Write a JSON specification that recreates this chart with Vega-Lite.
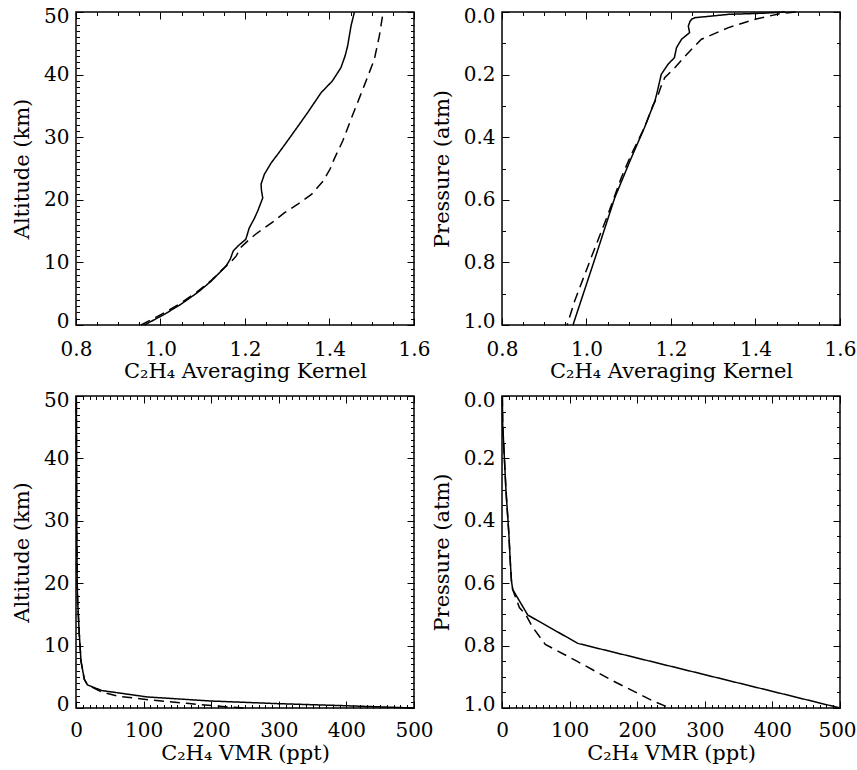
{
  "$schema": "https://vega.github.io/schema/vega-lite/v6.json",
  "background": "white",
  "padding": {"left": 10, "top": 5, "right": 0, "bottom": 5},
  "config": {
    "view": {"stroke": "black", "strokeWidth": 1.5},
    "axis": {"labelFont": "DejaVu Serif", "labelFontSize": 20, "titleFont": "DejaVu Serif", "titleFontSize": 21, "titleFontWeight": "normal", "labelColor": "black", "titleColor": "black", "grid": false, "domain": false, "labelOverlap": false, "tickColor": "black", "tickWidth": 1}
  },
  "datasets": {
    "tl": [
      {"series": "Profile 1", "alt": 0, "ak": 0.962}, {"series": "Profile 1", "alt": 1.7, "ak": 1.009}, {"series": "Profile 1", "alt": 3.3, "ak": 1.048}, {"series": "Profile 1", "alt": 5.2, "ak": 1.088}, {"series": "Profile 1", "alt": 7.0, "ak": 1.12}, {"series": "Profile 1", "alt": 9.4, "ak": 1.155}, {"series": "Profile 1", "alt": 10.5, "ak": 1.165}, {"series": "Profile 1", "alt": 11.8, "ak": 1.172}, {"series": "Profile 1", "alt": 12.6, "ak": 1.183}, {"series": "Profile 1", "alt": 13.7, "ak": 1.202}, {"series": "Profile 1", "alt": 15.5, "ak": 1.21}, {"series": "Profile 1", "alt": 17.0, "ak": 1.222}, {"series": "Profile 1", "alt": 18.2, "ak": 1.23}, {"series": "Profile 1", "alt": 20.3, "ak": 1.242}, {"series": "Profile 1", "alt": 21.5, "ak": 1.239}, {"series": "Profile 1", "alt": 22.5, "ak": 1.238}, {"series": "Profile 1", "alt": 24.1, "ak": 1.246}, {"series": "Profile 1", "alt": 25.9, "ak": 1.262}, {"series": "Profile 1", "alt": 27.5, "ak": 1.28}, {"series": "Profile 1", "alt": 30.2, "ak": 1.309}, {"series": "Profile 1", "alt": 33.9, "ak": 1.348}, {"series": "Profile 1", "alt": 37.1, "ak": 1.38}, {"series": "Profile 1", "alt": 39.0, "ak": 1.407}, {"series": "Profile 1", "alt": 41.1, "ak": 1.427}, {"series": "Profile 1", "alt": 43.0, "ak": 1.437}, {"series": "Profile 1", "alt": 44.6, "ak": 1.443}, {"series": "Profile 1", "alt": 47.8, "ak": 1.451}, {"series": "Profile 1", "alt": 50, "ak": 1.459},
      {"series": "Profile 2", "alt": 0, "ak": 0.954}, {"series": "Profile 2", "alt": 1.7, "ak": 1.002}, {"series": "Profile 2", "alt": 3.3, "ak": 1.043}, {"series": "Profile 2", "alt": 5.2, "ak": 1.085}, {"series": "Profile 2", "alt": 7.0, "ak": 1.118}, {"series": "Profile 2", "alt": 9.4, "ak": 1.155}, {"series": "Profile 2", "alt": 10.2, "ak": 1.168}, {"series": "Profile 2", "alt": 11.0, "ak": 1.179}, {"series": "Profile 2", "alt": 12.4, "ak": 1.19}, {"series": "Profile 2", "alt": 13.4, "ak": 1.206}, {"series": "Profile 2", "alt": 14.5, "ak": 1.225}, {"series": "Profile 2", "alt": 15.5, "ak": 1.246}, {"series": "Profile 2", "alt": 16.5, "ak": 1.267}, {"series": "Profile 2", "alt": 17.9, "ak": 1.293}, {"series": "Profile 2", "alt": 19.3, "ak": 1.325}, {"series": "Profile 2", "alt": 20.9, "ak": 1.358}, {"series": "Profile 2", "alt": 23.0, "ak": 1.385}, {"series": "Profile 2", "alt": 25.0, "ak": 1.402}, {"series": "Profile 2", "alt": 26.5, "ak": 1.411}, {"series": "Profile 2", "alt": 29.5, "ak": 1.432}, {"series": "Profile 2", "alt": 32.9, "ak": 1.451}, {"series": "Profile 2", "alt": 38.2, "ak": 1.482}, {"series": "Profile 2", "alt": 42.4, "ak": 1.506}, {"series": "Profile 2", "alt": 46.2, "ak": 1.518}, {"series": "Profile 2", "alt": 50, "ak": 1.527}
    ],
    "tr": [
      {"series": "Profile 1", "p": 1.0, "ak": 0.968}, {"series": "Profile 1", "p": 0.8, "ak": 1.017}, {"series": "Profile 1", "p": 0.593, "ak": 1.067}, {"series": "Profile 1", "p": 0.466, "ak": 1.106}, {"series": "Profile 1", "p": 0.37, "ak": 1.137}, {"series": "Profile 1", "p": 0.284, "ak": 1.162}, {"series": "Profile 1", "p": 0.263, "ak": 1.166}, {"series": "Profile 1", "p": 0.199, "ak": 1.177}, {"series": "Profile 1", "p": 0.167, "ak": 1.193}, {"series": "Profile 1", "p": 0.146, "ak": 1.208}, {"series": "Profile 1", "p": 0.114, "ak": 1.213}, {"series": "Profile 1", "p": 0.087, "ak": 1.225}, {"series": "Profile 1", "p": 0.066, "ak": 1.244}, {"series": "Profile 1", "p": 0.045, "ak": 1.241}, {"series": "Profile 1", "p": 0.03, "ak": 1.245}, {"series": "Profile 1", "p": 0.023, "ak": 1.249}, {"series": "Profile 1", "p": 0.018, "ak": 1.257}, {"series": "Profile 1", "p": 0.013, "ak": 1.296}, {"series": "Profile 1", "p": 0.0075, "ak": 1.336}, {"series": "Profile 1", "p": 0.004, "ak": 1.416}, {"series": "Profile 1", "p": 0.0, "ak": 1.471},
      {"series": "Profile 2", "p": 1.0, "ak": 0.954}, {"series": "Profile 2", "p": 0.923, "ak": 0.972}, {"series": "Profile 2", "p": 0.785, "ak": 1.011}, {"series": "Profile 2", "p": 0.646, "ak": 1.051}, {"series": "Profile 2", "p": 0.529, "ak": 1.0825}, {"series": "Profile 2", "p": 0.455, "ak": 1.106}, {"series": "Profile 2", "p": 0.37, "ak": 1.137}, {"series": "Profile 2", "p": 0.3, "ak": 1.157}, {"series": "Profile 2", "p": 0.263, "ak": 1.17}, {"series": "Profile 2", "p": 0.236, "ak": 1.177}, {"series": "Profile 2", "p": 0.21, "ak": 1.185}, {"series": "Profile 2", "p": 0.178, "ak": 1.209}, {"series": "Profile 2", "p": 0.13, "ak": 1.241}, {"series": "Profile 2", "p": 0.087, "ak": 1.272}, {"series": "Profile 2", "p": 0.05, "ak": 1.336}, {"series": "Profile 2", "p": 0.023, "ak": 1.399}, {"series": "Profile 2", "p": 0.004, "ak": 1.462}, {"series": "Profile 2", "p": 0.0, "ak": 1.495}
    ],
    "bl": [
      {"series": "Profile 1", "alt": 50, "vmr": 0.5}, {"series": "Profile 1", "alt": 40, "vmr": 0.8}, {"series": "Profile 1", "alt": 30, "vmr": 1.0}, {"series": "Profile 1", "alt": 20, "vmr": 1.8}, {"series": "Profile 1", "alt": 17, "vmr": 2.5}, {"series": "Profile 1", "alt": 11.8, "vmr": 4.9}, {"series": "Profile 1", "alt": 7.5, "vmr": 7.4}, {"series": "Profile 1", "alt": 4.6, "vmr": 12.3}, {"series": "Profile 1", "alt": 3.7, "vmr": 17}, {"series": "Profile 1", "alt": 2.8, "vmr": 38}, {"series": "Profile 1", "alt": 1.76, "vmr": 106}, {"series": "Profile 1", "alt": 1.12, "vmr": 200}, {"series": "Profile 1", "alt": 0.7, "vmr": 298}, {"series": "Profile 1", "alt": 0.37, "vmr": 397}, {"series": "Profile 1", "alt": 0, "vmr": 500},
      {"series": "Profile 2", "alt": 50, "vmr": 0.5}, {"series": "Profile 2", "alt": 40, "vmr": 0.8}, {"series": "Profile 2", "alt": 30, "vmr": 1.0}, {"series": "Profile 2", "alt": 20, "vmr": 1.8}, {"series": "Profile 2", "alt": 17, "vmr": 2.5}, {"series": "Profile 2", "alt": 11.8, "vmr": 4.9}, {"series": "Profile 2", "alt": 7.5, "vmr": 7.4}, {"series": "Profile 2", "alt": 4.6, "vmr": 12.3}, {"series": "Profile 2", "alt": 3.7, "vmr": 17}, {"series": "Profile 2", "alt": 2.6, "vmr": 37}, {"series": "Profile 2", "alt": 1.9, "vmr": 62}, {"series": "Profile 2", "alt": 1.28, "vmr": 111}, {"series": "Profile 2", "alt": 0.75, "vmr": 164}, {"series": "Profile 2", "alt": 0.48, "vmr": 190}, {"series": "Profile 2", "alt": 0.18, "vmr": 224}, {"series": "Profile 2", "alt": 0, "vmr": 248}
    ],
    "br": [
      {"series": "Profile 1", "p": 0.0, "vmr": 0.5}, {"series": "Profile 1", "p": 0.09, "vmr": 1.0}, {"series": "Profile 1", "p": 0.198, "vmr": 3.5}, {"series": "Profile 1", "p": 0.304, "vmr": 5.9}, {"series": "Profile 1", "p": 0.433, "vmr": 9.9}, {"series": "Profile 1", "p": 0.54, "vmr": 12.5}, {"series": "Profile 1", "p": 0.593, "vmr": 14}, {"series": "Profile 1", "p": 0.62, "vmr": 15.8}, {"series": "Profile 1", "p": 0.702, "vmr": 38.1}, {"series": "Profile 1", "p": 0.793, "vmr": 112.3}, {"series": "Profile 1", "p": 1.0, "vmr": 500},
      {"series": "Profile 2", "p": 0.0, "vmr": 0.5}, {"series": "Profile 2", "p": 0.09, "vmr": 1.0}, {"series": "Profile 2", "p": 0.198, "vmr": 3.5}, {"series": "Profile 2", "p": 0.304, "vmr": 5.9}, {"series": "Profile 2", "p": 0.433, "vmr": 9.9}, {"series": "Profile 2", "p": 0.54, "vmr": 12.5}, {"series": "Profile 2", "p": 0.593, "vmr": 14}, {"series": "Profile 2", "p": 0.62, "vmr": 15.8}, {"series": "Profile 2", "p": 0.678, "vmr": 25.7}, {"series": "Profile 2", "p": 0.7, "vmr": 35}, {"series": "Profile 2", "p": 0.74, "vmr": 45}, {"series": "Profile 2", "p": 0.796, "vmr": 64}, {"series": "Profile 2", "p": 0.849, "vmr": 110}, {"series": "Profile 2", "p": 0.913, "vmr": 164}, {"series": "Profile 2", "p": 0.978, "vmr": 224}, {"series": "Profile 2", "p": 1.0, "vmr": 248}
    ]
  },
  "columns": 2,
  "spacing": {"row": 71, "column": 88},
  "bounds": "flush",
  "concat": [
    {
      "width": 338, "height": 313,
      "data": {"name": "tl"},
      "resolve": {"axis": {"x": "independent", "y": "independent"}},
      "layer": [
        {
          "mark": {"type": "line", "color": "black", "strokeWidth": 1.5},
          "encoding": {
            "x": {"field": "ak", "type": "quantitative", "scale": {"domain": [0.8, 1.6], "nice": false, "zero": false},
                  "axis": {"orient": "bottom", "values": [0.8, 1.0, 1.2, 1.4, 1.6], "format": ".1f", "ticks": false, "labelFlush": false, "labelPadding": 14, "title": "C₂H₄ Averaging Kernel", "titlePadding": 1}},
            "y": {"field": "alt", "type": "quantitative", "scale": {"domain": [0, 50], "nice": false, "zero": false},
                  "axis": {"orient": "left", "values": [0, 10, 20, 30, 40, 50], "format": "d", "ticks": false, "labelPadding": 7, "labelFlush": true, "labelFlushOffset": 6, "title": "Altitude (km)", "titlePadding": 11}},
            "strokeDash": {"field": "series", "type": "nominal", "scale": {"domain": ["Profile 1", "Profile 2"], "range": [[1, 0], [10, 6]]}, "legend": null},
            "order": {"field": "alt", "type": "quantitative"}
          }
        },
        {
          "mark": {"type": "point", "opacity": 0},
          "encoding": {
            "x": {"field": "ak", "type": "quantitative", "axis": {"orient": "bottom", "labels": false, "title": null, "values": [0.8,0.85,0.9,0.95,1.0,1.05,1.1,1.15,1.2,1.25,1.3,1.35,1.4,1.45,1.5,1.55,1.6], "tickSize": {"condition": {"test": "abs(datum.value*5 - round(datum.value*5)) < 0.001", "value": -7}, "value": -3.5}}},
            "y": {"field": "alt", "type": "quantitative", "axis": {"orient": "left", "labels": false, "title": null, "values": [0,1,2,3,4,5,6,7,8,9,10,11,12,13,14,15,16,17,18,19,20,21,22,23,24,25,26,27,28,29,30,31,32,33,34,35,36,37,38,39,40,41,42,43,44,45,46,47,48,49,50], "tickSize": {"condition": {"test": "datum.value % 10 == 0", "value": -7}, "value": -3.5}}}
          }
        },
        {
          "mark": {"type": "point", "opacity": 0},
          "encoding": {
            "x": {"field": "ak", "type": "quantitative", "axis": {"orient": "top", "labels": false, "title": null, "values": [0.8,0.85,0.9,0.95,1.0,1.05,1.1,1.15,1.2,1.25,1.3,1.35,1.4,1.45,1.5,1.55,1.6], "tickSize": {"condition": {"test": "abs(datum.value*5 - round(datum.value*5)) < 0.001", "value": -7}, "value": -3.5}}},
            "y": {"field": "alt", "type": "quantitative", "axis": {"orient": "right", "labels": false, "title": null, "values": [0,1,2,3,4,5,6,7,8,9,10,11,12,13,14,15,16,17,18,19,20,21,22,23,24,25,26,27,28,29,30,31,32,33,34,35,36,37,38,39,40,41,42,43,44,45,46,47,48,49,50], "tickSize": {"condition": {"test": "datum.value % 10 == 0", "value": -7}, "value": -3.5}}}
          }
        }
      ]
    },
    {
      "width": 338, "height": 313,
      "data": {"name": "tr"},
      "resolve": {"axis": {"x": "independent", "y": "independent"}},
      "layer": [
        {
          "mark": {"type": "line", "color": "black", "strokeWidth": 1.5},
          "encoding": {
            "x": {"field": "ak", "type": "quantitative", "scale": {"domain": [0.8, 1.6], "nice": false, "zero": false},
                  "axis": {"orient": "bottom", "values": [0.8, 1.0, 1.2, 1.4, 1.6], "format": ".1f", "ticks": false, "labelFlush": false, "labelPadding": 14, "title": "C₂H₄ Averaging Kernel", "titlePadding": 1}},
            "y": {"field": "p", "type": "quantitative", "scale": {"domain": [0, 1], "nice": false, "zero": false, "reverse": true},
                  "axis": {"orient": "left", "values": [0, 0.2, 0.4, 0.6, 0.8, 1.0], "format": ".1f", "ticks": false, "labelPadding": 7, "labelFlush": true, "labelFlushOffset": 6, "title": "Pressure (atm)", "titlePadding": 11}},
            "strokeDash": {"field": "series", "type": "nominal", "scale": {"domain": ["Profile 1", "Profile 2"], "range": [[1, 0], [10, 6]]}, "legend": null},
            "order": {"field": "p", "type": "quantitative"}
          }
        },
        {
          "mark": {"type": "point", "opacity": 0},
          "encoding": {
            "x": {"field": "ak", "type": "quantitative", "axis": {"orient": "bottom", "labels": false, "title": null, "values": [0.8,0.85,0.9,0.95,1.0,1.05,1.1,1.15,1.2,1.25,1.3,1.35,1.4,1.45,1.5,1.55,1.6], "tickSize": {"condition": {"test": "abs(datum.value*5 - round(datum.value*5)) < 0.001", "value": -7}, "value": -3.5}}},
            "y": {"field": "p", "type": "quantitative", "axis": {"orient": "left", "labels": false, "title": null, "values": [0,0.1,0.2,0.3,0.4,0.5,0.6,0.7,0.8,0.9,1.0], "tickSize": {"condition": {"test": "abs(datum.value*5 - round(datum.value*5)) < 0.001", "value": -7}, "value": -3.5}}}
          }
        },
        {
          "mark": {"type": "point", "opacity": 0},
          "encoding": {
            "x": {"field": "ak", "type": "quantitative", "axis": {"orient": "top", "labels": false, "title": null, "values": [0.8,0.85,0.9,0.95,1.0,1.05,1.1,1.15,1.2,1.25,1.3,1.35,1.4,1.45,1.5,1.55,1.6], "tickSize": {"condition": {"test": "abs(datum.value*5 - round(datum.value*5)) < 0.001", "value": -7}, "value": -3.5}}},
            "y": {"field": "p", "type": "quantitative", "axis": {"orient": "right", "labels": false, "title": null, "values": [0,0.1,0.2,0.3,0.4,0.5,0.6,0.7,0.8,0.9,1.0], "tickSize": {"condition": {"test": "abs(datum.value*5 - round(datum.value*5)) < 0.001", "value": -7}, "value": -3.5}}}
          }
        }
      ]
    },
    {
      "width": 338, "height": 312,
      "data": {"name": "bl"},
      "resolve": {"axis": {"x": "independent", "y": "independent"}},
      "layer": [
        {
          "mark": {"type": "line", "color": "black", "strokeWidth": 1.5},
          "encoding": {
            "x": {"field": "vmr", "type": "quantitative", "scale": {"domain": [0, 500], "nice": false},
                  "axis": {"orient": "bottom", "values": [0, 100, 200, 300, 400, 500], "format": "d", "ticks": false, "labelFlush": false, "labelPadding": 12, "title": "C₂H₄ VMR (ppt)", "titlePadding": 2}},
            "y": {"field": "alt", "type": "quantitative", "scale": {"domain": [0, 50], "nice": false, "zero": false},
                  "axis": {"orient": "left", "values": [0, 10, 20, 30, 40, 50], "format": "d", "ticks": false, "labelPadding": 7, "labelFlush": true, "labelFlushOffset": 6, "title": "Altitude (km)", "titlePadding": 11}},
            "strokeDash": {"field": "series", "type": "nominal", "scale": {"domain": ["Profile 1", "Profile 2"], "range": [[1, 0], [10, 6]]}, "legend": null},
            "order": {"field": "alt", "type": "quantitative"}
          }
        },
        {
          "mark": {"type": "point", "opacity": 0},
          "encoding": {
            "x": {"field": "vmr", "type": "quantitative", "axis": {"orient": "bottom", "labels": false, "title": null, "values": [0,10,20,30,40,50,60,70,80,90,100,110,120,130,140,150,160,170,180,190,200,210,220,230,240,250,260,270,280,290,300,310,320,330,340,350,360,370,380,390,400,410,420,430,440,450,460,470,480,490,500], "tickSize": {"condition": {"test": "datum.value % 100 == 0", "value": -7}, "value": -3.5}}},
            "y": {"field": "alt", "type": "quantitative", "axis": {"orient": "left", "labels": false, "title": null, "values": [0,1,2,3,4,5,6,7,8,9,10,11,12,13,14,15,16,17,18,19,20,21,22,23,24,25,26,27,28,29,30,31,32,33,34,35,36,37,38,39,40,41,42,43,44,45,46,47,48,49,50], "tickSize": {"condition": {"test": "datum.value % 10 == 0", "value": -7}, "value": -3.5}}}
          }
        },
        {
          "mark": {"type": "point", "opacity": 0},
          "encoding": {
            "x": {"field": "vmr", "type": "quantitative", "axis": {"orient": "top", "labels": false, "title": null, "values": [0,10,20,30,40,50,60,70,80,90,100,110,120,130,140,150,160,170,180,190,200,210,220,230,240,250,260,270,280,290,300,310,320,330,340,350,360,370,380,390,400,410,420,430,440,450,460,470,480,490,500], "tickSize": {"condition": {"test": "datum.value % 100 == 0", "value": -7}, "value": -3.5}}},
            "y": {"field": "alt", "type": "quantitative", "axis": {"orient": "right", "labels": false, "title": null, "values": [0,1,2,3,4,5,6,7,8,9,10,11,12,13,14,15,16,17,18,19,20,21,22,23,24,25,26,27,28,29,30,31,32,33,34,35,36,37,38,39,40,41,42,43,44,45,46,47,48,49,50], "tickSize": {"condition": {"test": "datum.value % 10 == 0", "value": -7}, "value": -3.5}}}
          }
        }
      ]
    },
    {
      "width": 338, "height": 312,
      "data": {"name": "br"},
      "resolve": {"axis": {"x": "independent", "y": "independent"}},
      "layer": [
        {
          "mark": {"type": "line", "color": "black", "strokeWidth": 1.5},
          "encoding": {
            "x": {"field": "vmr", "type": "quantitative", "scale": {"domain": [0, 500], "nice": false},
                  "axis": {"orient": "bottom", "values": [0, 100, 200, 300, 400, 500], "format": "d", "ticks": false, "labelFlush": false, "labelPadding": 12, "labelOffset": {"condition": {"test": "datum.value == 500", "value": -3}, "value": 0}, "title": "C₂H₄ VMR (ppt)", "titlePadding": 2}},
            "y": {"field": "p", "type": "quantitative", "scale": {"domain": [0, 1], "nice": false, "zero": false, "reverse": true},
                  "axis": {"orient": "left", "values": [0, 0.2, 0.4, 0.6, 0.8, 1.0], "format": ".1f", "ticks": false, "labelPadding": 7, "labelFlush": true, "labelFlushOffset": 6, "title": "Pressure (atm)", "titlePadding": 11}},
            "strokeDash": {"field": "series", "type": "nominal", "scale": {"domain": ["Profile 1", "Profile 2"], "range": [[1, 0], [10, 6]]}, "legend": null},
            "order": {"field": "p", "type": "quantitative"}
          }
        },
        {
          "mark": {"type": "point", "opacity": 0},
          "encoding": {
            "x": {"field": "vmr", "type": "quantitative", "axis": {"orient": "bottom", "labels": false, "title": null, "values": [0,10,20,30,40,50,60,70,80,90,100,110,120,130,140,150,160,170,180,190,200,210,220,230,240,250,260,270,280,290,300,310,320,330,340,350,360,370,380,390,400,410,420,430,440,450,460,470,480,490,500], "tickSize": {"condition": {"test": "datum.value % 100 == 0", "value": -7}, "value": -3.5}}},
            "y": {"field": "p", "type": "quantitative", "axis": {"orient": "left", "labels": false, "title": null, "values": [0,0.05,0.1,0.15,0.2,0.25,0.3,0.35,0.4,0.45,0.5,0.55,0.6,0.65,0.7,0.75,0.8,0.85,0.9,0.95,1.0], "tickSize": {"condition": {"test": "abs(datum.value*5 - round(datum.value*5)) < 0.001", "value": -7}, "value": -3.5}}}
          }
        },
        {
          "mark": {"type": "point", "opacity": 0},
          "encoding": {
            "x": {"field": "vmr", "type": "quantitative", "axis": {"orient": "top", "labels": false, "title": null, "values": [0,10,20,30,40,50,60,70,80,90,100,110,120,130,140,150,160,170,180,190,200,210,220,230,240,250,260,270,280,290,300,310,320,330,340,350,360,370,380,390,400,410,420,430,440,450,460,470,480,490,500], "tickSize": {"condition": {"test": "datum.value % 100 == 0", "value": -7}, "value": -3.5}}},
            "y": {"field": "p", "type": "quantitative", "axis": {"orient": "right", "labels": false, "title": null, "values": [0,0.05,0.1,0.15,0.2,0.25,0.3,0.35,0.4,0.45,0.5,0.55,0.6,0.65,0.7,0.75,0.8,0.85,0.9,0.95,1.0], "tickSize": {"condition": {"test": "abs(datum.value*5 - round(datum.value*5)) < 0.001", "value": -7}, "value": -3.5}}}
          }
        }
      ]
    }
  ]
}
